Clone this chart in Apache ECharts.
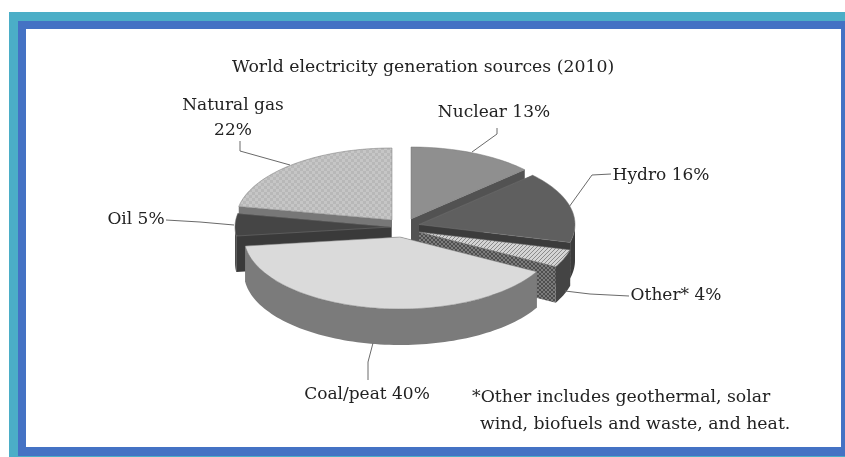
<!DOCTYPE html>
<html><head><meta charset="utf-8">
<style>html,body{margin:0;padding:0;background:#fff}#c{width:845px;height:457px}</style>
<script src="https://cdn.jsdelivr.net/npm/echarts@6/dist/echarts.min.js"></script>
</head><body><div id="c"></div>
<script>
const categories = ['Nuclear','Hydro','Other*','Coal/peat','Oil','Natural gas'];
const shares = [13,16,4,40,5,22];
const titleText = 'World electricity generation sources (2010)';
const footnote = ['*Other includes geothermal, solar','wind, biofuels and waste, and heat.'];

const FONT = '"DejaVu Serif"';
const apex = [[411,219],[419,224.5],[419,232],[400,237],[391,227],[392,220]];
const order = [2,3,4,6,5,1]; // paint depth per slice
const RX=156, RY=72, DEPTH=36;

function pattern(size,draw){const c=document.createElement('canvas');c.width=c.height=size;draw(c.getContext('2d'),size);return {image:c,repeat:'repeat'};}
const hatchLight = pattern(4,(g,s)=>{g.fillStyle='#d4d4d4';g.fillRect(0,0,s,s);g.strokeStyle='#8a8a8a';g.lineWidth=1;g.beginPath();g.moveTo(0,s);g.lineTo(s,0);g.stroke();});
const hatchDark = pattern(4,(g,s)=>{g.fillStyle='#4e4e4e';g.fillRect(0,0,s,s);g.strokeStyle='#7c7c7c';g.lineWidth=1;g.beginPath();g.moveTo(0,s);g.lineTo(s,0);g.moveTo(0,0);g.lineTo(s,s);g.stroke();});
const dotted = pattern(6,(g,s)=>{g.fillStyle='#c6c6c6';g.fillRect(0,0,s,s);g.fillStyle='#b8b8b8';g.fillRect(0,0,3,3);g.fillRect(3,3,3,3);});
const looks = [
 {top:'#8f8f8f',wall:'#525252',face:'#525252'},
 {top:'#5f5f5f',wall:'#3c3c3c',face:'#3c3c3c'},
 {top:hatchLight,wall:'#444444',face:hatchDark},
 {top:'#dadada',wall:'#7b7b7b',face:'#7b7b7b'},
 {top:'#454545',wall:'#4c4c4c',face:'#3a3a3a'},
 {top:dotted,wall:'#777777',face:'#777777'}
];
const labels = [
 {x:494,y:113,lines:[categories[0]+' '+shares[0]+'%']},
 {x:661,y:176,lines:[categories[1]+' '+shares[1]+'%']},
 {x:676,y:296,lines:[categories[2]+' '+shares[2]+'%']},
 {x:367,y:395,lines:[categories[3]+' '+shares[3]+'%']},
 {x:136,y:220,lines:[categories[4]+' '+shares[4]+'%']},
 {x:233,y:106,lines:[categories[5],shares[5]+'%']}
];
const leaders = [
 [[497,128],[497,134],[472,152]],
 [[611,174],[592,175],[569,207]],
 [[629,296],[590,294],[565,291]],
 [[368,380],[368,362],[373,343]],
 [[166,220],[200,222],[234,225]],
 [[240,141],[240,151],[290,165]]
];

const rim=(c,t,d)=>[c[0]+RX*Math.sin(t),c[1]-RY*Math.cos(t)+(d||0)];
function arc(c,a,b,d){const n=Math.max(2,Math.ceil((b-a)/0.03));const p=[];for(let i=0;i<=n;i++)p.push(rim(c,a+(b-a)*i/n,d));return p;}
const total = shares.reduce((s,v)=>s+v,0);

function renderItem(params,api){
  const i=params.dataIndex, c=apex[i], L=looks[i], z=order[i]*10;
  let before=0; for(let k=0;k<i;k++) before+=shares[k];
  const a=before/total*2*Math.PI, b=(before+api.value(0))/total*2*Math.PI;
  const kids=[];
  const poly=(pts,fill,zz)=>kids.push({type:'polygon',shape:{points:pts},z2:z+zz,style:{fill:fill,stroke:null}});
  const cb=[c[0],c[1]+DEPTH];
  [a,b].forEach(t=>poly([c,rim(c,t),rim(c,t,DEPTH),cb],L.face,0));
  const w0=Math.max(a,Math.PI/2), w1=Math.min(b,1.5*Math.PI);
  if(w1>w0) poly(arc(c,w0,w1).concat(arc(c,w0,w1,DEPTH).reverse()),L.wall,1);
  kids.push({type:'polygon',shape:{points:[c].concat(arc(c,a,b))},z2:z+2,style:{fill:L.top,stroke:'#777',lineWidth:0.5}});
  kids.push({type:'polyline',shape:{points:leaders[i]},z2:100,style:{fill:null,stroke:'#6a6a6a',lineWidth:1}});
  labels[i].lines.forEach((t,n)=>kids.push({type:'text',z2:101,style:{text:t,x:labels[i].x,y:labels[i].y+n*25,align:'center',verticalAlign:'middle',font:'17px '+FONT,fill:'#222'}}));
  return {type:'group',children:kids};
}

const chart=echarts.init(document.getElementById('c'),null,{renderer:'canvas'});
chart.setOption({
  animation:false,
  backgroundColor:'#fff',
  title:{text:titleText,left:418,top:54,textAlign:'center',textStyle:{fontFamily:FONT,fontSize:17.3,fontWeight:'normal',color:'#222'}},
  graphic:[
    {type:'rect',z:-3,shape:{x:9,y:12,width:836,height:445},style:{fill:'#4baec7'}},
    {type:'rect',z:-2,shape:{x:18,y:21,width:827,height:435},style:{fill:'#4472c4'}},
    {type:'rect',z:-1,shape:{x:26,y:29,width:815,height:418},style:{fill:'#fff'}},
    {type:'text',style:{text:footnote[0],x:472,y:398,verticalAlign:'middle',font:'17.3px '+FONT,fill:'#222'}},
    {type:'text',style:{text:footnote[1],x:480,y:425,verticalAlign:'middle',font:'17.3px '+FONT,fill:'#222'}}
  ],
  series:[{type:'custom',coordinateSystem:'none',silent:true,renderItem:renderItem,data:shares.map(v=>[v])}]
});
</script></body></html>
